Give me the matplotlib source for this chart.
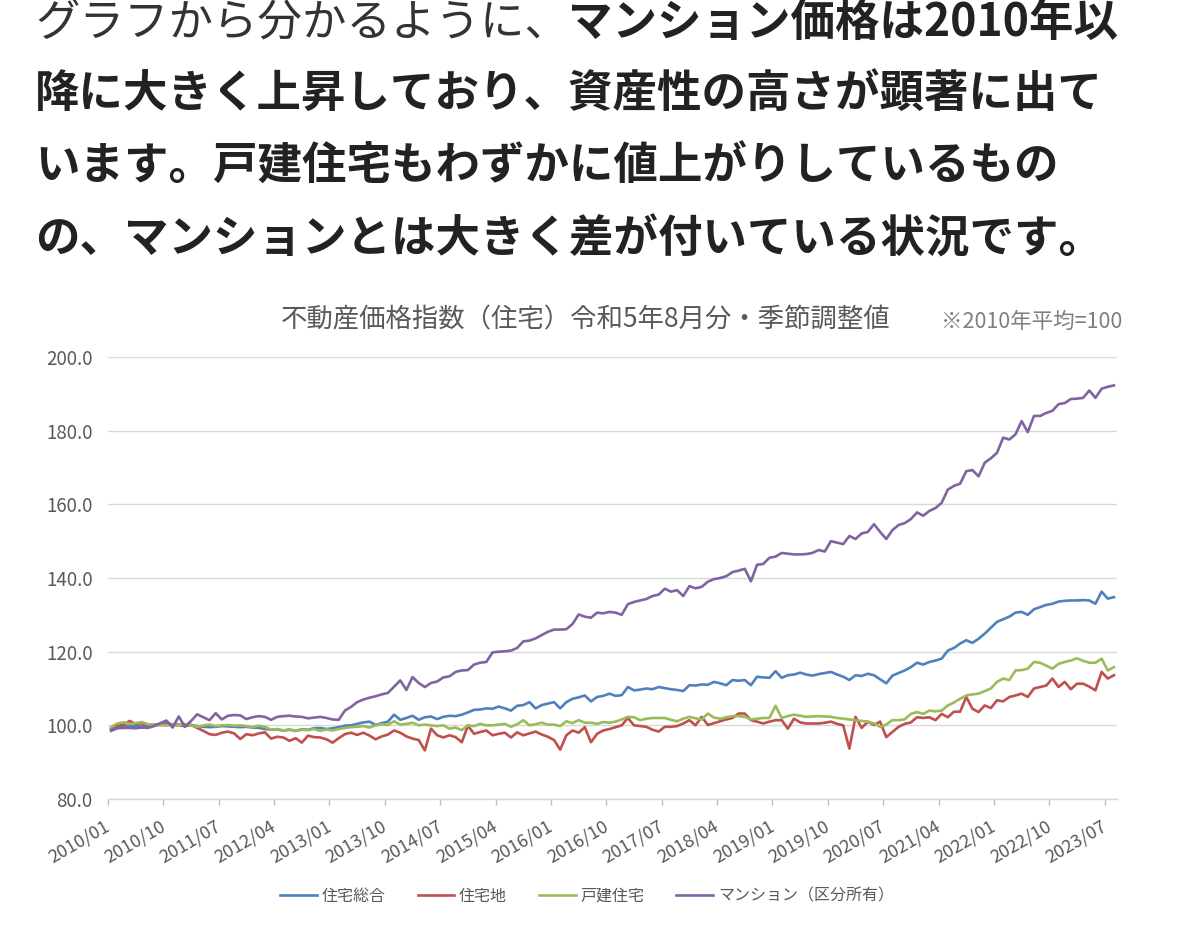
import numpy as np
import matplotlib
matplotlib.use("Agg")
import matplotlib.pyplot as plt
from matplotlib.transforms import ScaledTranslation

plt.rcParams['font.family'] = ['Noto Sans CJK JP', 'DejaVu Sans']

W, H = 1179, 938

# 不動産価格指数（住宅）月次 2010/01〜2023/08, 2010年平均=100
series_names = ['住宅総合', '住宅地', '戸建住宅', 'マンション（区分所有）']
series_colors = ['#4F81BD', '#C0504D', '#9BBB59', '#8064A2']

sogo = [
    98.8, 99.5, 99.6, 99.8, 99.8, 99.8, 99.9, 100.0, 100.2, 100.5, 100.3, 100.2,
    100.0, 100.1, 99.8, 99.6, 99.5, 99.6, 99.8, 99.7, 99.6, 99.5, 99.6, 99.4,
    99.3, 99.0, 98.8, 98.9, 98.6, 98.8, 98.5, 98.9, 98.8, 99.2, 99.3, 99.0,
    99.2, 99.5, 99.9, 100.0, 100.4, 100.8, 101.0, 100.1, 100.6, 101.0, 102.9, 101.5,
    102.0, 102.6, 101.5, 102.2, 102.4, 101.7, 102.3, 102.6, 102.5, 102.9, 103.5, 104.2,
    104.3, 104.6, 104.5, 105.1, 104.6, 104.0, 105.3, 105.5, 106.3, 104.6, 105.5, 105.9,
    106.3, 104.6, 106.3, 107.2, 107.6, 108.1, 106.5, 107.7, 108.0, 108.6, 108.0, 108.2,
    110.4, 109.5, 109.7, 110.0, 109.8, 110.4, 110.1, 109.8, 109.6, 109.3, 110.9, 110.8,
    111.1, 111.0, 111.8, 111.4, 110.9, 112.3, 112.1, 112.3, 110.9, 113.2, 113.0, 112.9,
    114.7, 112.9, 113.6, 113.8, 114.3, 113.8, 113.5, 113.9, 114.2, 114.5, 113.8, 113.2,
    112.3, 113.6, 113.4, 114.0, 113.6, 112.5, 111.4, 113.5, 114.2, 114.9, 115.8, 117.0,
    116.5, 117.2, 117.6, 118.1, 120.3, 121.0, 122.2, 123.1, 122.4, 123.5, 124.9, 126.5,
    128.1, 128.8, 129.5, 130.6, 130.8, 130.0, 131.5, 132.1, 132.7, 133.0, 133.6, 133.8,
    133.9, 133.9, 134.0, 133.9, 133.0, 136.3, 134.4, 134.8,
]

takuchi = [
    99.0, 100.2, 100.0, 101.2, 100.4, 100.6, 100.0, 100.2, 100.3, 100.1, 100.2, 100.0,
    99.8, 100.1, 99.3, 98.5, 97.6, 97.4, 98.0, 98.3, 97.8, 96.3, 97.6, 97.3,
    97.8, 98.1, 96.4, 96.9, 96.7, 95.8, 96.5, 95.3, 97.2, 96.8, 96.7, 96.2,
    95.3, 96.5, 97.6, 98.0, 97.4, 98.0, 97.2, 96.2, 97.0, 97.5, 98.6, 98.0,
    97.0, 96.4, 96.0, 93.2, 99.1, 97.3, 96.7, 97.3, 96.8, 95.4, 99.9, 97.7,
    98.2, 98.6, 97.3, 97.7, 98.0, 96.7, 98.1, 97.3, 97.8, 98.3, 97.5, 96.9,
    96.0, 93.4, 97.3, 98.6, 98.0, 99.5, 95.4, 97.7, 98.6, 99.0, 99.5, 100.0,
    102.0, 100.0, 99.8, 99.6, 98.8, 98.3, 99.6, 99.6, 99.8, 100.5, 101.4, 100.0,
    102.3, 100.1, 100.6, 101.1, 101.6, 102.0, 103.2, 103.2, 101.4, 101.0, 100.5, 101.0,
    101.4, 101.4, 99.1, 101.8, 100.8, 100.5, 100.5, 100.5, 100.7, 101.0, 100.4, 100.0,
    93.7, 102.3, 99.3, 101.0, 100.1, 101.0, 96.8, 98.2, 99.6, 100.4, 100.8, 102.2,
    102.0, 102.2, 101.4, 103.1, 102.2, 103.7, 103.7, 107.7, 104.5, 103.6, 105.4, 104.7,
    106.8, 106.5, 107.7, 108.1, 108.6, 107.7, 110.0, 110.4, 110.8, 112.7, 110.4, 111.8,
    109.8, 111.3, 111.3, 110.5, 109.5, 114.5, 112.7, 113.6,
]

kodate = [
    99.5, 100.5, 100.8, 100.4, 100.6, 100.9, 100.3, 100.2, 100.0, 100.0, 100.2, 100.0,
    100.4, 100.0, 99.6, 100.0, 100.2, 99.8, 100.0, 100.1, 99.9, 100.0, 99.8, 99.5,
    99.9, 99.6, 98.8, 99.0, 98.6, 98.9, 98.5, 98.8, 98.7, 99.0, 98.5, 98.9,
    98.6, 99.0, 99.3, 99.5, 99.6, 99.8, 99.4, 100.0, 100.3, 100.1, 101.1, 100.2,
    100.4, 100.7, 100.0, 100.2, 100.0, 99.8, 100.0, 99.1, 99.4, 98.7, 100.0, 99.8,
    100.4, 100.0, 100.0, 100.2, 100.4, 99.6, 100.3, 101.4, 100.0, 100.3, 100.7, 100.2,
    100.2, 99.8, 101.1, 100.6, 101.4, 100.7, 100.7, 100.4, 100.9, 100.7, 101.0, 101.6,
    102.3, 102.2, 101.4, 101.8, 102.0, 102.0, 102.0, 101.5, 101.1, 101.8, 102.3, 101.9,
    101.6, 103.2, 102.1, 101.8, 102.2, 102.5, 102.5, 102.3, 101.6, 101.8, 102.0, 102.0,
    105.3, 102.0, 102.5, 102.9, 102.6, 102.3, 102.4, 102.5, 102.4, 102.3, 102.0, 101.8,
    101.6, 101.4, 101.2, 101.0, 100.5, 99.6, 100.2, 101.4, 101.4, 101.6, 103.1, 103.6,
    103.1, 104.0, 103.8, 104.0, 105.4, 106.2, 107.2, 108.1, 108.4, 108.6, 109.3, 110.0,
    111.8, 112.7, 112.3, 114.9, 115.0, 115.4, 117.2, 117.0, 116.2, 115.4, 116.7, 117.2,
    117.6, 118.2, 117.5, 117.0, 117.0, 118.1, 114.9, 115.8,
]

mansion = [
    98.5, 99.2, 99.3, 99.3, 99.2, 99.4, 99.3, 99.8, 100.6, 101.3, 99.4, 102.4,
    99.6, 101.2, 103.0, 102.2, 101.4, 103.3, 101.6, 102.6, 102.8, 102.7, 101.7, 102.2,
    102.5, 102.3, 101.5, 102.3, 102.5, 102.6, 102.4, 102.3, 101.9, 102.1, 102.3, 102.0,
    101.6, 101.5, 104.0, 105.0, 106.3, 107.0, 107.5, 107.9, 108.4, 108.8, 110.5, 112.2,
    109.6, 113.1, 111.5, 110.4, 111.5, 111.9, 113.0, 113.3, 114.5, 114.9, 115.0, 116.5,
    117.0, 117.2, 119.8, 120.0, 120.1, 120.3, 121.0, 122.8, 123.0, 123.6, 124.5, 125.4,
    126.0, 126.0, 126.1, 127.5, 130.1, 129.5, 129.2, 130.6, 130.4, 130.8, 130.6, 130.0,
    132.9, 133.5, 133.9, 134.3, 135.1, 135.5, 137.1, 136.3, 136.7, 135.1, 137.8, 137.2,
    137.6, 139.0, 139.7, 140.0, 140.5, 141.6, 142.0, 142.5, 139.1, 143.6, 143.8, 145.5,
    145.8, 146.8, 146.6, 146.4, 146.4, 146.5, 146.8, 147.6, 147.2, 150.0, 149.6, 149.2,
    151.4, 150.6, 152.1, 152.5, 154.6, 152.5, 150.6, 153.0, 154.4, 154.9, 156.0, 157.8,
    156.9, 158.2, 159.0, 160.4, 164.0, 165.0, 165.6, 169.0, 169.3, 167.6, 171.3, 172.5,
    174.0, 178.1, 177.6, 179.0, 182.6, 179.6, 184.0, 184.0, 184.8, 185.4, 187.2, 187.5,
    188.6, 188.7, 188.9, 190.9, 188.9, 191.4, 191.9, 192.3,
]

x_labels = ['2010/01', '2010/10', '2011/07', '2012/04', '2013/01', '2013/10',
            '2014/07', '2015/04', '2016/01', '2016/10', '2017/07', '2018/04',
            '2019/01', '2019/10', '2020/07', '2021/04', '2022/01', '2022/10',
            '2023/07']
label_step = 9
y_ticks = [80, 100, 120, 140, 160, 180, 200]

chart_title = '不動産価格指数（住宅）令和5年8月分・季節調整値'
chart_note = '※2010年平均=100'

para_lines = [
    ('グラフから分かるように、', 'マンション価格は2010年以'),
    ('', '降に大きく上昇しており、資産性の高さが顕著に出て'),
    ('', 'います。戸建住宅もわずかに値上がりしているもの'),
    ('', 'の、マンションとは大きく差が付いている状況です。'),
]

fig = plt.figure(figsize=(W / 100, H / 100), dpi=100)
fig.patch.set_facecolor('white')


def px(x, y):
    return x / W, 1 - y / H


# 本文テキスト
para_size = 32
em = para_size * 100 / 72
line_y = [23, 94, 167, 240]
for (light, bold), yy in zip(para_lines, line_y):
    x0 = 35
    if light:
        fig.text(*px(x0, yy), light, fontsize=para_size, color='#333333',
                 fontweight='normal', va='center', ha='left')
        x0 += len(light) * em
    fig.text(*px(x0, yy), bold, fontsize=para_size, color='#222222',
             fontweight='bold', va='center', ha='left')

# グラフ
ax = fig.add_axes([108 / W, 1 - 799 / H, (1117 - 108) / W, (799 - 357) / H])
data = [sogo, takuchi, kodate, mansion]
for vals, name, col in zip(data, series_names, series_colors):
    xs = np.arange(len(vals))
    ax.plot(xs, vals, color=col, lw=1.9, label=name, solid_joinstyle='round')

n = len(sogo)
ax.set_xlim(-0.5, n - 0.5)
ax.set_ylim(y_ticks[0], y_ticks[-1])
ax.set_yticks(y_ticks)
ax.set_yticklabels([f'{v:.1f}' for v in y_ticks])
ax.yaxis.grid(True, color='#d9d9d9', lw=1)
ax.set_axisbelow(True)

tick_pos = [i * label_step - 0.5 for i in range(len(x_labels))]
ax.set_xticks(tick_pos)
ax.set_xticklabels(x_labels, rotation=30, ha='right', va='top',
                   rotation_mode='anchor')
ax.tick_params(axis='x', colors='#bfbfbf', length=4, width=1,
               labelcolor='#595959', labelsize=13, pad=9)
ax.tick_params(axis='y', length=0, labelcolor='#595959', labelsize=13.5, pad=11)
shift = ScaledTranslation(-4 / 100, 0, fig.dpi_scale_trans)
for lab in ax.get_xticklabels():
    lab.set_transform(lab.get_transform() + shift)

for s in ['top', 'right', 'left']:
    ax.spines[s].set_visible(False)
ax.spines['bottom'].set_color('#d9d9d9')
ax.spines['bottom'].set_linewidth(1)

fig.text(*px(586, 320), chart_title, fontsize=19, color='#595959',
         ha='center', va='center')
fig.text(*px(1122, 322), chart_note, fontsize=15.5, color='#7f7f7f',
         ha='right', va='center')

fig.legend(loc='center', bbox_to_anchor=px(587, 896), ncol=4, frameon=False,
           fontsize=11.5, labelcolor='#595959', handlelength=2.3,
           handletextpad=0.3, columnspacing=2.0)

fig.savefig('out.png', dpi=100, facecolor='white')
